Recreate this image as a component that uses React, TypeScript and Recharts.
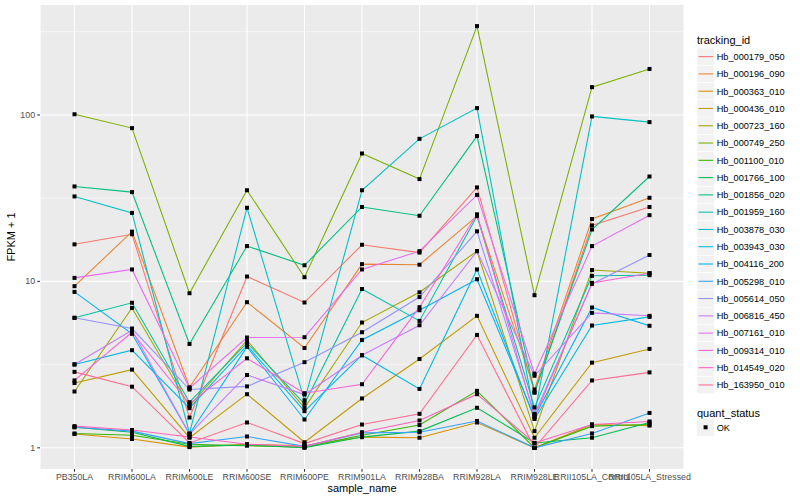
import React from 'react';
import { LineChart, Line, XAxis, YAxis, CartesianGrid } from 'recharts';

const samples = ['PB350LA', 'RRIM600LA', 'RRIM600LE', 'RRIM600SE', 'RRIM600PE', 'RRIM901LA', 'RRIM928BA', 'RRIM928LA', 'RRIM928LE', 'RRII105LA_Control', 'RRII105LA_Stressed'];

const trackingIds = ['Hb_000179_050', 'Hb_000196_090', 'Hb_000363_010', 'Hb_000436_010', 'Hb_000723_160', 'Hb_000749_250', 'Hb_001100_010', 'Hb_001766_100', 'Hb_001856_020', 'Hb_001959_160', 'Hb_003878_030', 'Hb_003943_030', 'Hb_004116_200', 'Hb_005298_010', 'Hb_005614_050', 'Hb_006816_450', 'Hb_007161_010', 'Hb_009314_010', 'Hb_014549_020', 'Hb_163950_010'];

const colors = ['#F8766D', '#EA8331', '#D89000', '#C09B00', '#A3A500', '#7CAE00', '#39B600', '#00BB4E', '#00BF7D', '#00C1A3', '#00BFC4', '#00BAE0', '#00B0F6', '#35A2FF', '#9590FF', '#C77CFF', '#E76BF3', '#FA62DB', '#FF62BC', '#FF6C91'];

const s000179_050 = [16.7, 19.2, 1.52, 10.7, 7.47, 16.6, 14.9, 36.7, 2.15, 21.7, 28.0];
const s000196_090 = [9.36, 19.9, 2.31, 7.5, 3.98, 12.7, 12.6, 24.7, 2.24, 23.7, 31.8];
const s000363_010 = [1.21, 1.13, 1.01, 1.05, 1.03, 1.16, 1.15, 1.42, 1.0, 1.38, 1.36];
const s000436_010 = [2.45, 2.95, 1.15, 2.1, 1.08, 1.98, 3.42, 6.21, 1.15, 3.25, 3.93];
const s000723_160 = [2.18, 6.93, 1.78, 4.43, 1.74, 5.66, 8.6, 15.2, 1.26, 11.7, 11.2];
const s000749_250 = [101, 83.4, 8.49, 35.3, 10.6, 58.7, 41.2, 342, 8.26, 147, 189];
const s001100_010 = [1.22, 1.19, 1.05, 1.03, 1.01, 1.19, 1.37, 2.2, 1.0, 1.35, 1.38];
const s001766_100 = [1.33, 1.24, 1.02, 1.04, 1.0, 1.16, 1.26, 1.74, 1.07, 1.15, 1.42];
const s001856_020 = [37.2, 34.4, 4.21, 16.3, 12.5, 28.0, 24.8, 74.7, 2.15, 20.5, 42.7];
const s001959_160 = [6.04, 7.44, 1.88, 4.27, 1.84, 9.0, 5.79, 24.7, 1.75, 10.8, 10.9];
const s003878_030 = [32.4, 25.8, 1.22, 27.7, 1.93, 35.3, 71.9, 110, 1.59, 98, 90.6];
const s003943_030 = [3.17, 3.86, 1.73, 4.12, 1.66, 3.6, 2.26, 11.8, 1.49, 5.43, 6.12];
const s004116_200 = [8.65, 4.84, 1.21, 4.04, 1.48, 4.45, 6.71, 10.3, 1.53, 6.97, 5.41];
const s005298_010 = [1.33, 1.26, 1.06, 1.17, 1.02, 1.23, 1.24, 1.45, 1.0, 1.22, 1.62];
const s005614_050 = [6.04, 5.21, 2.24, 2.34, 3.27, 4.95, 8.05, 20.0, 1.59, 9.66, 14.4];
const s006816_450 = [3.17, 5.09, 1.21, 2.74, 2.09, 3.6, 5.45, 15.2, 2.71, 6.47, 6.21];
const s007161_010 = [10.5, 11.8, 2.28, 4.6, 4.62, 11.8, 15.2, 33.1, 2.79, 16.3, 25.0];
const s009314_010 = [2.54, 4.95, 1.84, 3.45, 2.13, 2.41, 7.0, 25.3, 1.53, 9.8, 11.2];
const s014549_020 = [1.35, 1.28, 1.16, 1.05, 1.02, 1.24, 1.46, 2.1, 1.07, 1.38, 1.44];
const s163950_010 = [2.86, 2.33, 1.07, 1.42, 1.06, 1.38, 1.6, 4.77, 1.0, 2.54, 2.84];

const seriesValues = [s000179_050, s000196_090, s000363_010, s000436_010, s000723_160, s000749_250, s001100_010, s001766_100, s001856_020, s001959_160, s003878_030, s003943_030, s004116_200, s005298_010, s005614_050, s006816_450, s007161_010, s009314_010, s014549_020, s163950_010];

const yTicks = [1, 10, 100];
const yMinor = [3.1623, 31.623, 316.23];

const data = samples.map((s, i) => {
  const row: any = { sample: s };
  trackingIds.forEach((id, k) => {
    row[id] = seriesValues[k][i];
  });
  return row;
});

const FONT = '"Liberation Sans", Arial, Helvetica, sans-serif';

const XTick = (props: any) => {
  const { x, y, payload } = props;
  return (
    <text x={x} y={y} dy="0.71em" textAnchor="middle" fontSize={8.8} fill="#4D4D4D" fontFamily={FONT}>
      {payload.value}
    </text>
  );
};

const YTick = (props: any) => {
  const { x, y, payload } = props;
  return (
    <text x={x} y={y} dy="0.35em" textAnchor="end" fontSize={8.8} fill="#4D4D4D" fontFamily={FONT}>
      {payload.value}
    </text>
  );
};

const squareDot = (p: any) => {
  if (p.cx == null || p.cy == null) return <g key={`d-${p.index}`} />;
  return <rect key={`d-${p.dataKey}-${p.index}`} x={p.cx - 2} y={p.cy - 2} width={4} height={4} fill="#000000" />;
};

export default function App() {
  const legendTop = 48;
  const keySize = 17.28;
  return (
    <div style={{ position: 'absolute', left: 0, top: 0, width: 800, height: 500, background: '#FFFFFF' }}>
      <LineChart width={800} height={500} data={data} margin={{ top: 5, right: 116, left: 0, bottom: 0 }}>
        <CartesianGrid
          fill="#EBEBEB"
          stroke="#FFFFFF"
          strokeWidth={0.53}
          vertical={false}
          horizontalValues={yMinor}
        />
        <CartesianGrid
          stroke="#FFFFFF"
          strokeWidth={1.07}
          horizontalValues={yTicks}
        />
        <XAxis
          dataKey="sample"
          type="category"
          height={31}
          padding={{ left: 34.5, right: 34.5 }}
          axisLine={false}
          tickLine={{ stroke: '#333333', strokeWidth: 1.07 }}
          tickSize={2.75}
          tickMargin={2.2}
          tick={<XTick />}
          interval={0}
        />
        <YAxis
          type="number"
          scale="log"
          domain={[0.746, 458]}
          allowDataOverflow
          ticks={yTicks}
          width={40}
          axisLine={false}
          tickLine={{ stroke: '#333333', strokeWidth: 1.07 }}
          tickSize={2.75}
          tickMargin={2.2}
          tick={<YTick />}
        />
        {trackingIds.map((id, k) => (
          <Line
            key={`l-${id}`}
            type="linear"
            dataKey={id}
            stroke={colors[k]}
            strokeWidth={1.07}
            dot={false}
            activeDot={false}
            isAnimationActive={false}
          />
        ))}
        {trackingIds.map((id) => (
          <Line
            key={`p-${id}`}
            type="linear"
            dataKey={id}
            stroke="none"
            strokeWidth={0}
            dot={squareDot}
            activeDot={false}
            isAnimationActive={false}
            legendType="none"
          />
        ))}
      </LineChart>
      <svg width={800} height={500} style={{ position: 'absolute', left: 0, top: 0, pointerEvents: 'none' }} fontFamily={FONT}>
        <text x={15} y={237} transform="rotate(-90, 15, 237)" textAnchor="middle" fontSize={11} fill="#000000">FPKM + 1</text>
        <text x={362} y={492} textAnchor="middle" fontSize={11} fill="#000000">sample_name</text>
        <text x={697} y={44} fontSize={11} fill="#000000">tracking_id</text>
        {trackingIds.map((id, k) => {
          const top = legendTop + k * keySize;
          return (
            <g key={`lg-${id}`}>
              <rect x={697} y={top} width={keySize} height={keySize} fill="#F2F2F2" stroke="#FFFFFF" strokeWidth={0.5} />
              <line x1={698.5} x2={713} y1={top + keySize / 2} y2={top + keySize / 2} stroke={colors[k]} strokeWidth={1.07} />
              <text x={716.7} y={top + keySize / 2 + 3.3} fontSize={9.2} fill="#000000">{id}</text>
            </g>
          );
        })}
        <text x={697} y={416.7} fontSize={11} fill="#000000">quant_status</text>
        <rect x={697} y={418.7} width={keySize} height={keySize} fill="#F2F2F2" />
        <rect x={703.6} y={425.3} width={4} height={4} fill="#000000" />
        <text x={716.7} y={430.6} fontSize={9.2} fill="#000000">OK</text>
      </svg>
    </div>
  );
}
